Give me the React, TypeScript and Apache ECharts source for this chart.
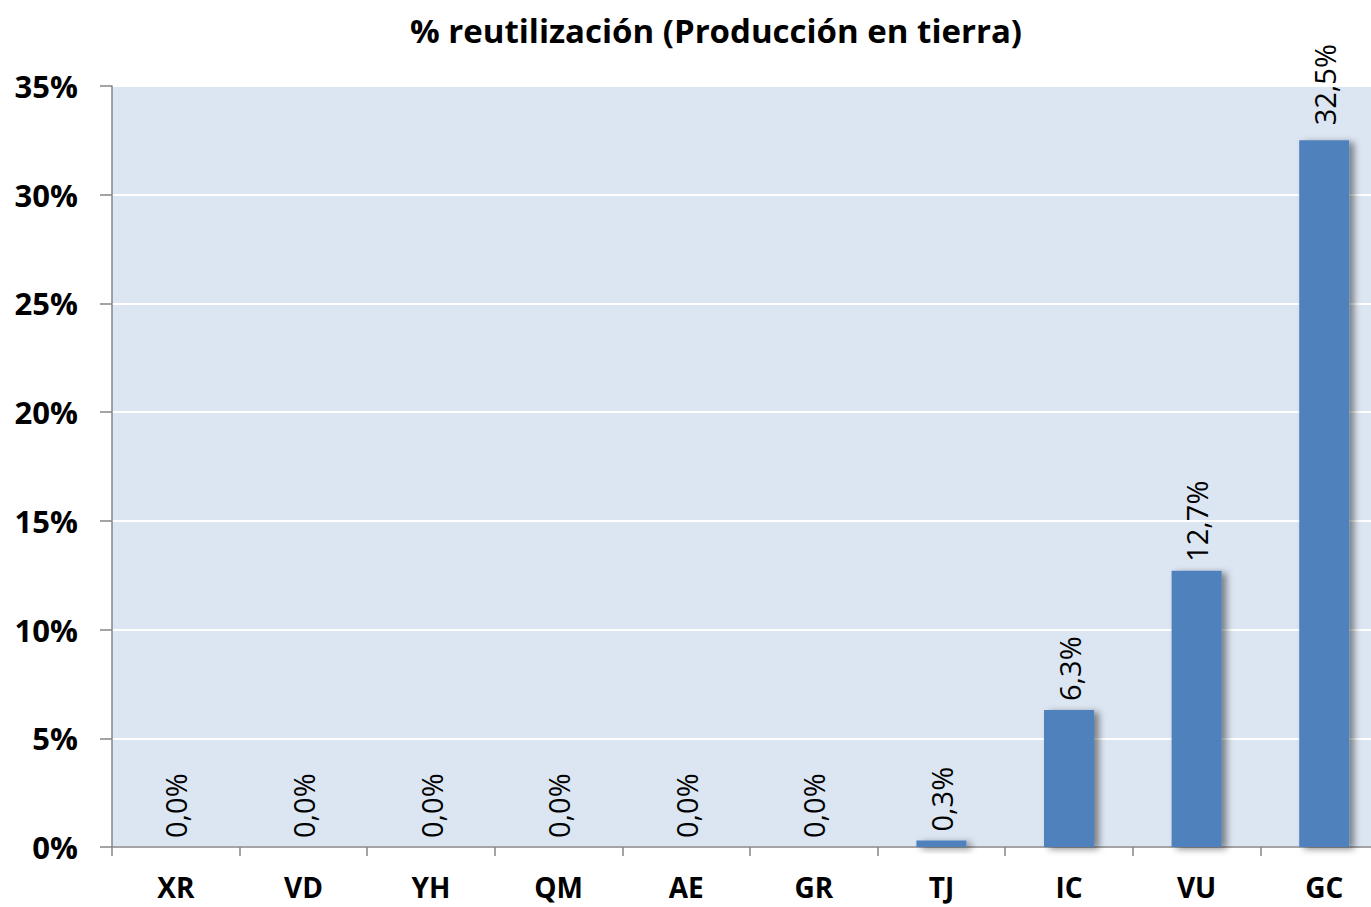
import React, { useEffect, useRef } from "react";
import * as echarts from "echarts";

const categories = ["XR", "VD", "YH", "QM", "AE", "GR", "TJ", "IC", "VU", "GC"];
const values = [0.0, 0.0, 0.0, 0.0, 0.0, 0.0, 0.3, 6.3, 12.7, 32.5];
const yTicks = { min: 0, max: 35, interval: 5 };
const titleText = "% reutilización (Producción en tierra)";

const FONT = "'Open Sans', sans-serif";

export default function App() {
  const ref = useRef<HTMLDivElement>(null);
  useEffect(() => {
    document.body.style.margin = "0";
    const chart = echarts.init(ref.current!, null, { renderer: "svg" });
    chart.setOption({
      animation: false,
      backgroundColor: "#ffffff",
      title: {
        text: titleText,
        left: 711,
        top: 9,
        textAlign: "center",
        textStyle: { fontFamily: FONT, fontWeight: "bold", fontSize: 33, color: "#000" },
      },
      grid: {
        left: 112,
        top: 86,
        width: 1276,
        height: 761,
        outerBoundsMode: "none",
        containLabel: false,
        show: true,
        backgroundColor: "#DCE6F2",
        borderWidth: 0,
      },
      xAxis: {
        type: "category",
        data: categories,
        axisLine: { show: true, lineStyle: { color: "#868686", width: 1.5 } },
        axisTick: { show: true, alignWithLabel: false, length: 9, lineStyle: { color: "#868686", width: 1.5 } },
        axisLabel: { margin: 30, lineHeight: 20, fontFamily: FONT, fontWeight: "bold", fontSize: 28, color: "#000" },
      },
      yAxis: {
        type: "value",
        min: yTicks.min,
        max: yTicks.max,
        interval: yTicks.interval,
        axisLine: { show: true, lineStyle: { color: "#868686", width: 1.5 } },
        axisTick: { show: true, length: 12, lineStyle: { color: "#868686", width: 1.5 } },
        axisLabel: { margin: 34, formatter: "{value}%", fontFamily: FONT, fontWeight: "bold", fontSize: 31, color: "#000" },
        splitLine: { show: true, lineStyle: { color: "#ffffff", width: 2 } },
      },
      series: [
        {
          type: "bar",
          data: values.map((v, i) =>
            i === values.length - 1 ? { value: v, label: { distance: 15 } } : { value: v }
          ),
          barWidth: 50,
          itemStyle: {
            color: "#4F81BD",
            shadowColor: "rgba(0,0,0,0.45)",
            shadowBlur: 7,
            shadowOffsetX: 5,
            shadowOffsetY: 2,
          },
          label: {
            show: true,
            position: "top",
            rotate: 90,
            align: "left",
            verticalAlign: "middle",
            distance: 9,
            fontFamily: FONT,
            fontSize: 29,
            color: "#000",
            formatter: (p: any) => p.value.toFixed(1).replace(".", ",") + "%",
          },
        },
      ],
    });
    return () => chart.dispose();
  }, []);
  return <div ref={ref} style={{ position: "absolute", left: 0, top: 0, width: 1371, height: 907 }} />;
}
